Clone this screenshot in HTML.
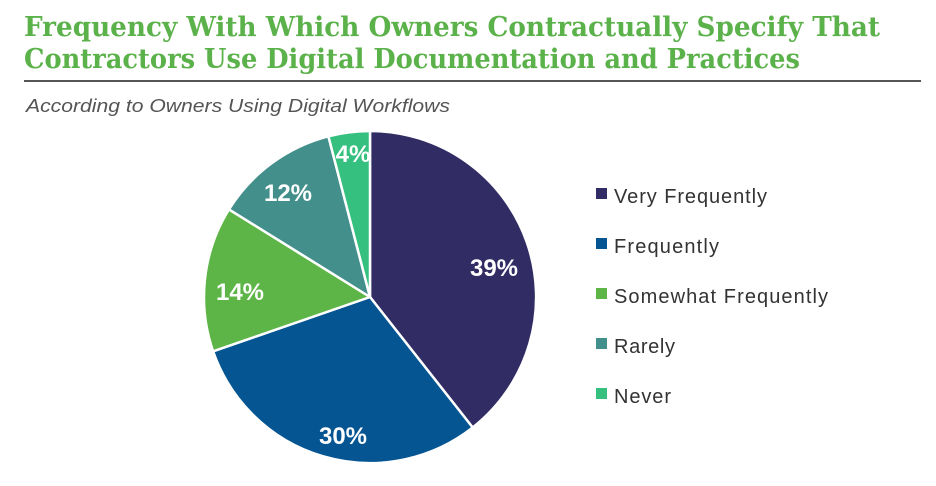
<!DOCTYPE html>
<html><head><meta charset="utf-8"><style>
html,body{margin:0;padding:0;background:#fff;width:936px;height:486px;overflow:hidden}
</style></head><body>
<svg width="936" height="486" viewBox="0 0 936 486" xmlns="http://www.w3.org/2000/svg">
<g font-family="'DejaVu Serif','Liberation Serif',serif" font-weight="bold" fill="#5bb14a" font-size="27">
<text x="24" y="36" textLength="856" lengthAdjust="spacingAndGlyphs">Frequency With Which Owners Contractually Specify That</text>
<text x="24" y="68" textLength="776" lengthAdjust="spacingAndGlyphs">Contractors Use Digital Documentation and Practices</text>
</g>
<line x1="24" y1="81" x2="921" y2="81" stroke="#555" stroke-width="2"/>
<text x="26" y="112" font-family="'Liberation Sans',sans-serif" font-style="italic" font-size="18" fill="#555" textLength="424" lengthAdjust="spacingAndGlyphs">According to Owners Using Digital Workflows</text>
<g stroke="#fff" stroke-width="2.5" stroke-linejoin="round">
<path d="M370,297 L370,131 A166,166 0 0 1 472.7,427.5 Z" fill="#312c63"/>
<path d="M370,297 L472.7,427.5 A166,166 0 0 1 213.1,351.3 Z" fill="#045592"/>
<path d="M370,297 L213.1,351.3 A166,166 0 0 1 229.0,209.4 Z" fill="#5db547"/>
<path d="M370,297 L229.0,209.4 A166,166 0 0 1 328.4,136.3 Z" fill="#438f8b"/>
<path d="M370,297 L328.4,136.3 A166,166 0 0 1 370,131 Z" fill="#36c080"/>
</g>
<g font-family="'Liberation Sans',sans-serif" font-weight="bold" font-size="24" fill="#fff" text-anchor="middle">
<text x="494" y="276">39%</text>
<text x="343" y="444">30%</text>
<text x="240" y="300">14%</text>
<text x="288" y="201">12%</text>
<text x="353" y="162">4%</text>
</g>
<g font-family="'Liberation Sans',sans-serif" font-size="20" fill="#333" lengthAdjust="spacingAndGlyphs">
<rect x="596" y="188" width="11" height="11" fill="#312c63"/><text x="614" y="203" textLength="153">Very Frequently</text>
<rect x="596" y="238" width="11" height="11" fill="#045592"/><text x="614" y="253" textLength="105">Frequently</text>
<rect x="596" y="288" width="11" height="11" fill="#5db547"/><text x="614" y="303" textLength="214">Somewhat Frequently</text>
<rect x="596" y="338" width="11" height="11" fill="#438f8b"/><text x="614" y="353" textLength="61">Rarely</text>
<rect x="596" y="388" width="11" height="11" fill="#36c080"/><text x="614" y="403" textLength="57">Never</text>
</g>
</svg>
</body></html>
